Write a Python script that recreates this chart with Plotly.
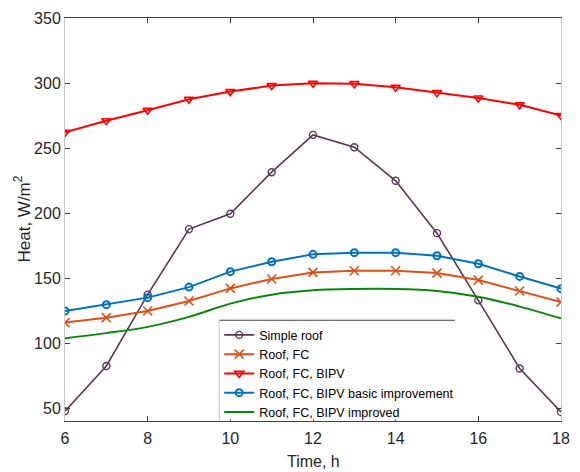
import plotly.graph_objects as go

hours = [6, 7, 8, 9, 10, 11, 12, 13, 14, 15, 16, 17, 18]
simple_roof = [47.6, 82.3, 137.2, 187.6, 199.4, 231.4, 260.1, 250.6, 224.8, 184.5, 132.8, 80.4, 47.0]
roof_fc = [115.7, 119.5, 124.6, 132.3, 142.0, 149.2, 154.3, 155.6, 155.6, 153.8, 148.4, 140.0, 131.5]
roof_fc_bipv = [262.0, 271.0, 279.0, 287.5, 293.4, 298.0, 299.8, 299.5, 296.7, 292.6, 288.5, 283.2, 275.0]
roof_fc_bipv_basic = [124.6, 129.5, 134.9, 143.0, 154.9, 162.5, 168.2, 169.5, 169.5, 167.1, 161.0, 151.2, 141.8]
roof_fc_bipv_improved = [103.7, 107.6, 112.4, 120.1, 130.3, 137.2, 140.5, 141.5, 141.5, 140.0, 135.6, 128.0, 119.0]

x_ticks = [6, 8, 10, 12, 14, 16, 18]
y_ticks = [50, 100, 150, 200, 250, 300, 350]

FONT = "Liberation Sans, Arial, sans-serif"
DARK = "#262626"

fig = go.Figure()
fig.add_trace(go.Scatter(
    x=hours, y=simple_roof, name="Simple roof", mode="lines+markers",
    line=dict(color="#593656", width=1.6),
    marker=dict(symbol="circle-open", size=7, color="#593656", line=dict(width=1.4))))
fig.add_trace(go.Scatter(
    x=hours, y=roof_fc, name="Roof, FC", mode="lines+markers",
    line=dict(color="#D95319", width=2),
    marker=dict(symbol="x-thin-open", size=9, color="#D95319", line=dict(width=1.6, color="#D95319"))))
fig.add_trace(go.Scatter(
    x=hours, y=roof_fc_bipv, name="Roof, FC, BIPV", mode="lines+markers",
    line=dict(color="#FF0000", width=2),
    marker=dict(symbol="triangle-down-open", size=8, color="#FF0000", line=dict(width=1.6))))
fig.add_trace(go.Scatter(
    x=hours, y=roof_fc_bipv_basic, name="Roof, FC, BIPV basic improvement", mode="lines+markers",
    line=dict(color="#0072BD", width=2),
    marker=dict(symbol="circle-open", size=7, color="#0072BD", line=dict(width=2))))
fig.add_trace(go.Scatter(
    x=hours, y=roof_fc_bipv_improved, name="Roof, FC, BIPV improved", mode="lines",
    line=dict(color="#0a870a", width=2, shape="spline", smoothing=1.0)))

L, R, T, B = 65, 10, 17, 51
W, H = 580, 472
pw, ph = W - L - R, H - T - B

leg_left_px, leg_top_px, leg_right_px = 222, 320, 462
lx0 = (leg_left_px - L) / pw
lx1 = (leg_right_px - L) / pw
ly1 = (H - B - leg_top_px) / ph
ly_bottom = 1.6 / ph

fig.update_layout(
    width=W, height=H,
    margin=dict(l=L, r=R, t=T, b=B),
    paper_bgcolor="white", plot_bgcolor="white",
    font=dict(family=FONT, size=16, color=DARK),
    showlegend=True,
    legend=dict(x=lx0, y=ly1, xanchor="left", yanchor="top",
                bgcolor="rgba(255,255,255,0)", borderwidth=0,
                font=dict(family=FONT, size=12.5, color="#000000"),
                tracegroupgap=0),
    xaxis=dict(range=[6, 18], tickvals=x_ticks, ticktext=[str(v) for v in x_ticks],
               showgrid=False, zeroline=False,
               showline=True, linecolor="#404040", linewidth=1, mirror="ticks",
               ticks="inside", ticklen=5, tickcolor="#404040", ticklabelstandoff=3,
               tickfont=dict(family=FONT, size=16, color=DARK)),
    yaxis=dict(range=[40, 350], tickvals=y_ticks, ticktext=[str(v) for v in y_ticks],
               showgrid=False, zeroline=False,
               showline=True, linecolor="#c8c8c8", linewidth=1, mirror="ticks",
               ticks="inside", ticklen=5, tickcolor="#404040",
               tickfont=dict(family=FONT, size=16, color=DARK)),
    annotations=[
        dict(text="Time, h", xref="paper", yref="paper", x=0.5, y=0,
             xanchor="center", yanchor="middle", yshift=-40, showarrow=False,
             font=dict(family=FONT, size=16, color=DARK)),
        dict(text="Heat, W/m<sup>2</sup>", xref="paper", yref="paper", x=0, y=0.5,
             xanchor="center", yanchor="middle", xshift=-43, textangle=-90, showarrow=False,
             font=dict(family=FONT, size=17, color=DARK)),
    ],
    shapes=[
        dict(type="rect", xref="paper", yref="paper", x0=lx0, x1=lx1, y0=ly_bottom, y1=ly1,
             fillcolor="white", line=dict(width=0), layer="above"),
        dict(type="line", xref="paper", yref="paper", x0=lx0, x1=lx1, y0=ly1, y1=ly1,
             line=dict(color="#404040", width=1), layer="above"),
        dict(type="line", xref="paper", yref="paper", x0=lx0, x1=lx0, y0=0, y1=ly1,
             line=dict(color="#c8c8c8", width=1), layer="above"),
    ],
)

fig.write_html("out.html")
